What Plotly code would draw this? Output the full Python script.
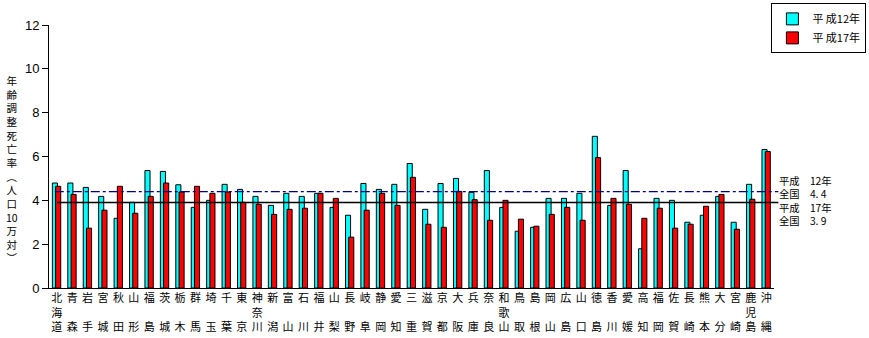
import plotly.graph_objects as go

prefectures = ["北海道", "青森", "岩手", "宮城", "秋田", "山形", "福島", "茨城", "栃木", "群馬",
               "埼玉", "千葉", "東京", "神奈川", "新潟", "富山", "石川", "福井", "山梨", "長野",
               "岐阜", "静岡", "愛知", "三重", "滋賀", "京都", "大阪", "兵庫", "奈良", "和歌山",
               "鳥取", "島根", "岡山", "広島", "山口", "徳島", "香川", "愛媛", "高知", "福岡",
               "佐賀", "長崎", "熊本", "大分", "宮崎", "鹿児島", "沖縄"]

h12 = [4.79, 4.79, 4.59, 4.18, 3.18, 3.91, 5.36, 5.32, 4.71, 3.68,
       4.00, 4.73, 4.50, 4.18, 3.77, 4.32, 4.18, 4.32, 3.68, 3.32,
       4.77, 4.50, 4.73, 5.68, 3.59, 4.77, 5.00, 4.36, 5.36, 3.68,
       2.59, 2.77, 4.09, 4.09, 4.32, 6.92, 3.77, 5.36, 1.79, 4.09,
       4.00, 3.00, 3.32, 4.18, 3.00, 4.73, 6.32]

h17 = [4.64, 4.27, 2.73, 3.55, 4.64, 3.41, 4.18, 4.79, 4.38, 4.64,
       4.32, 4.38, 3.91, 3.82, 3.36, 3.59, 3.64, 4.32, 4.09, 2.32,
       3.55, 4.32, 3.77, 5.05, 2.91, 2.77, 4.41, 4.03, 3.09, 4.00,
       3.14, 2.82, 3.36, 3.68, 3.09, 5.95, 4.09, 3.82, 3.18, 3.64,
       2.73, 2.91, 3.73, 4.27, 2.68, 4.05, 6.23]

national_h12 = 4.4
national_h17 = 3.9
y_ticks = [0, 2, 4, 6, 8, 10, 12]
y_title_chars = ["年", "齢", "調", "整", "死", "亡", "率", "︵", "人", "口", "10", "万", "対", "︶"]
right_texts = ["平成　12年", "全国　4. 4", "平成　17年", "全国　3. 9"]


def vertical_label(name):
    if len(name) == 2:
        return name[0] + "<br>\u3000<br>" + name[1]
    return "<br>".join(name)


xs = list(range(len(prefectures)))
jp_font = "Noto Sans CJK JP"

fig = go.Figure()
fig.add_trace(go.Bar(x=xs, y=h12, name="平 成12年", width=0.33, offset=-0.28,
                     marker=dict(color="#00FFFF", line=dict(color="black", width=1))))
fig.add_trace(go.Bar(x=xs, y=h17, name="平 成17年", width=0.33, offset=-0.07,
                     marker=dict(color="#FF0000", line=dict(color="black", width=1))))

# national reference lines
fig.add_shape(type="line", xref="paper", yref="y", x0=0.008, x1=1.006,
              y0=national_h12, y1=national_h12,
              line=dict(color="#000080", width=1.2, dash="dashdot"))
fig.add_shape(type="line", xref="paper", yref="y", x0=0.011, x1=1.006,
              y0=national_h17, y1=national_h17,
              line=dict(color="black", width=1.5))

fig.add_annotation(text="<br>".join(right_texts), xref="paper", yref="paper",
                   x=1.004, y=0.332, xanchor="left", yanchor="middle", align="left",
                   showarrow=False,
                   font=dict(family=jp_font, size=10.3, color="black"))

fig.add_annotation(text="<br>".join(y_title_chars),
                   xref="paper", yref="paper", x=-0.051, y=0.453,
                   xanchor="center", yanchor="middle", showarrow=False,
                   font=dict(family=jp_font, size=10.5, color="black"))

fig.update_layout(
    width=869, height=338,
    margin=dict(l=49, r=95, t=25, b=50, autoexpand=False),
    paper_bgcolor="white", plot_bgcolor="white",
    barmode="overlay",
    showlegend=True,
    legend=dict(x=0.997, xref="container", xanchor="right", y=0.99, yref="container", yanchor="top",
                bordercolor="black", borderwidth=1, bgcolor="white",
                font=dict(family=jp_font, size=11, color="black"),
                itemwidth=30, tracegroupgap=0),
    xaxis=dict(range=[-0.5, len(prefectures) - 0.5], tickmode="array", tickvals=xs,
               ticktext=[vertical_label(p) for p in prefectures],
               showline=True, linecolor="black", linewidth=1, ticks="",
               showgrid=False, zeroline=False, tickangle=0, automargin=False,
               tickfont=dict(family=jp_font, size=11, color="black")),
    yaxis=dict(range=[0, 12], tickmode="array", tickvals=y_ticks,
               showline=True, linecolor="black", linewidth=1, ticks="outside",
               ticklen=6, tickcolor="black", showgrid=False, zeroline=False, automargin=False,
               tickfont=dict(family="Liberation Sans", size=13, color="black")),
)

fig.write_html("out.html")
